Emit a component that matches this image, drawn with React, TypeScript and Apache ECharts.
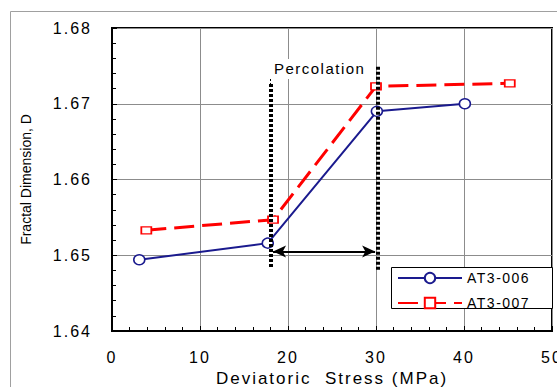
import React, { useEffect, useRef } from "react";
import * as echarts from "echarts";

const stressA: number[] = [3.1, 17.7, 30.1, 40.1];
const fractalA: number[] = [1.6494, 1.6516, 1.669, 1.67];
const stressB: number[] = [3.9, 18.3, 30.0, 45.2];
const fractalB: number[] = [1.6533, 1.6547, 1.6723, 1.6727];
const seriesNames: string[] = ["AT3-006", "AT3-007"];
const percolationStart = 18;
const percolationEnd = 30.2;

const BASE = "'Liberation Sans'";
const SPACED = "'Liberation Sans', Arial";
const PLAIN = "'Liberation Sans', sans-serif";
const NAVY = "#1a1a8e";
const RED = "#ff0000";

export default function App() {
  const ref = useRef<HTMLDivElement>(null);
  useEffect(() => {
    if (!ref.current) return;
    const chart = echarts.init(ref.current, undefined, { renderer: "svg" });
    const dataA = stressA.map((x, i) => [x, fractalA[i]]);
    const dataB = stressB.map((x, i) => [x, fractalB[i]]);
    chart.setOption({
      animation: false,
      textStyle: { fontFamily: BASE },
      grid: {
        left: 112,
        right: 5,
        top: 28,
        bottom: 56,
        containLabel: false,
        outerBoundsMode: "none",
        show: true,
        borderColor: "#000",
        borderWidth: 2,
        backgroundColor: "transparent",
      },
      graphic: [
        {
          type: "rect",
          z: 0,
          silent: true,
          shape: { x: 10.5, y: 11.5, width: 700, height: 500 },
          style: { fill: "none", stroke: "#a0a0a0", lineWidth: 1 },
        },
        {
          type: "rect",
          z: 3,
          silent: true,
          shape: { x: 391.5, y: 267.5, width: 161, height: 41 },
          style: { fill: "#fff", stroke: "#000", lineWidth: 1 },
        },
      ],
      legend: {
        data: seriesNames,
        orient: "vertical",
        left: 391,
        top: 267,
        padding: [4, 6, 2, 6],
        itemWidth: 64,
        itemHeight: 13,
        itemGap: 11,
        z: 5,
        textStyle: { color: "#000", fontSize: 14, fontFamily: SPACED },
      },
      xAxis: {
        type: "value",
        min: 0,
        max: 50,
        interval: 10,
        name: "Deviatoric  Stress (MPa)",
        nameLocation: "middle",
        nameGap: 35,
        nameTextStyle: { color: "#000", fontSize: 17, fontFamily: BASE },
        axisLine: { show: true, lineStyle: { color: "#000", width: 2 } },
        axisTick: { show: true, inside: true, length: 5, lineStyle: { color: "#000" } },
        minorTick: { show: true, splitNumber: 5, length: 4, lineStyle: { color: "#000" } },
        splitLine: { show: true, lineStyle: { color: "#8c8c8c", width: 1 } },
        axisLabel: { color: "#000", fontSize: 16, margin: 18, hideOverlap: false },
      },
      yAxis: {
        type: "value",
        min: 1.64,
        max: 1.68,
        interval: 0.01,
        name: "Fractal Dimension, D",
        nameLocation: "middle",
        nameGap: 79,
        nameTextStyle: { color: "#000", fontSize: 14, fontFamily: PLAIN },
        axisLine: { show: true, lineStyle: { color: "#000", width: 2 } },
        axisTick: { show: true, inside: true, length: 5, lineStyle: { color: "#000" } },
        minorTick: { show: true, splitNumber: 5, length: 4, lineStyle: { color: "#000" } },
        splitLine: { show: true, lineStyle: { color: "#8c8c8c", width: 1 } },
        axisLabel: {
          color: "#000",
          fontSize: 16,
          margin: 20,
          formatter: (v: number) => v.toFixed(2),
        },
      },
      series: [
        {
          name: seriesNames[0],
          type: "line",
          data: dataA,
          z: 4,
          symbol: "circle",
          symbolSize: [11, 10],
          showAllSymbol: true,
          lineStyle: { color: NAVY, width: 2 },
          itemStyle: { color: "#fff", borderColor: NAVY, borderWidth: 1.5 },
          emphasis: { disabled: true },
          markLine: {
            silent: true,
            symbol: "none",
            label: { show: false },
            emphasis: { disabled: true },
            data: [
              [
                { coord: [percolationStart, 1.6738], lineStyle: { color: "#000", width: 1, type: [2, 2] } },
                { coord: [percolationStart, 1.6726] },
              ],
              [
                { coord: [percolationStart, 1.6726], lineStyle: { color: "#000", width: 4, type: [3, 2] } },
                { coord: [percolationStart, 1.6483] },
              ],
              [
                { coord: [percolationEnd, 1.6749], lineStyle: { color: "#000", width: 4, type: [3, 2] } },
                { coord: [percolationEnd, 1.6481] },
              ],
              [
                {
                  coord: [18.3, 1.6505],
                  symbol: "arrow",
                  symbolSize: [9, 13],
                  lineStyle: { color: "#000", width: 2, type: "solid" },
                },
                { coord: [29.9, 1.6505], symbol: "arrow", symbolSize: [9, 13] },
              ],
            ],
          },
          markPoint: {
            silent: true,
            symbol: "rect",
            symbolSize: [100, 20],
            itemStyle: { color: "#fff" },
            label: {
              show: true,
              position: "inside",
              formatter: "Percolation",
              color: "#000",
              fontSize: 15,
              fontFamily: SPACED,
            },
            emphasis: { disabled: true },
            data: [{ coord: [23.6, 1.6746] }],
          },
        },
        {
          name: seriesNames[1],
          type: "line",
          data: dataB,
          z: 4,
          symbol: "rect",
          symbolSize: [10, 7],
          showAllSymbol: true,
          lineStyle: { color: RED, width: 3, type: [20, 8] },
          itemStyle: { color: "#fff", borderColor: RED, borderWidth: 1.5 },
          emphasis: { disabled: true },
        },
      ],
    });
    return () => chart.dispose();
  }, []);
  return (
    <>
      <style>{`
        #chart svg text { letter-spacing: 2px; }
        #chart svg text[style*="Arial"] { letter-spacing: 1.5px; }
        #chart svg text[style*="sans-serif"] { letter-spacing: 0; }
      `}</style>
      <div
        id="chart"
        ref={ref}
        style={{ position: "absolute", left: 0, top: 0, width: 557, height: 387, background: "#fff" }}
      />
    </>
  );
}
